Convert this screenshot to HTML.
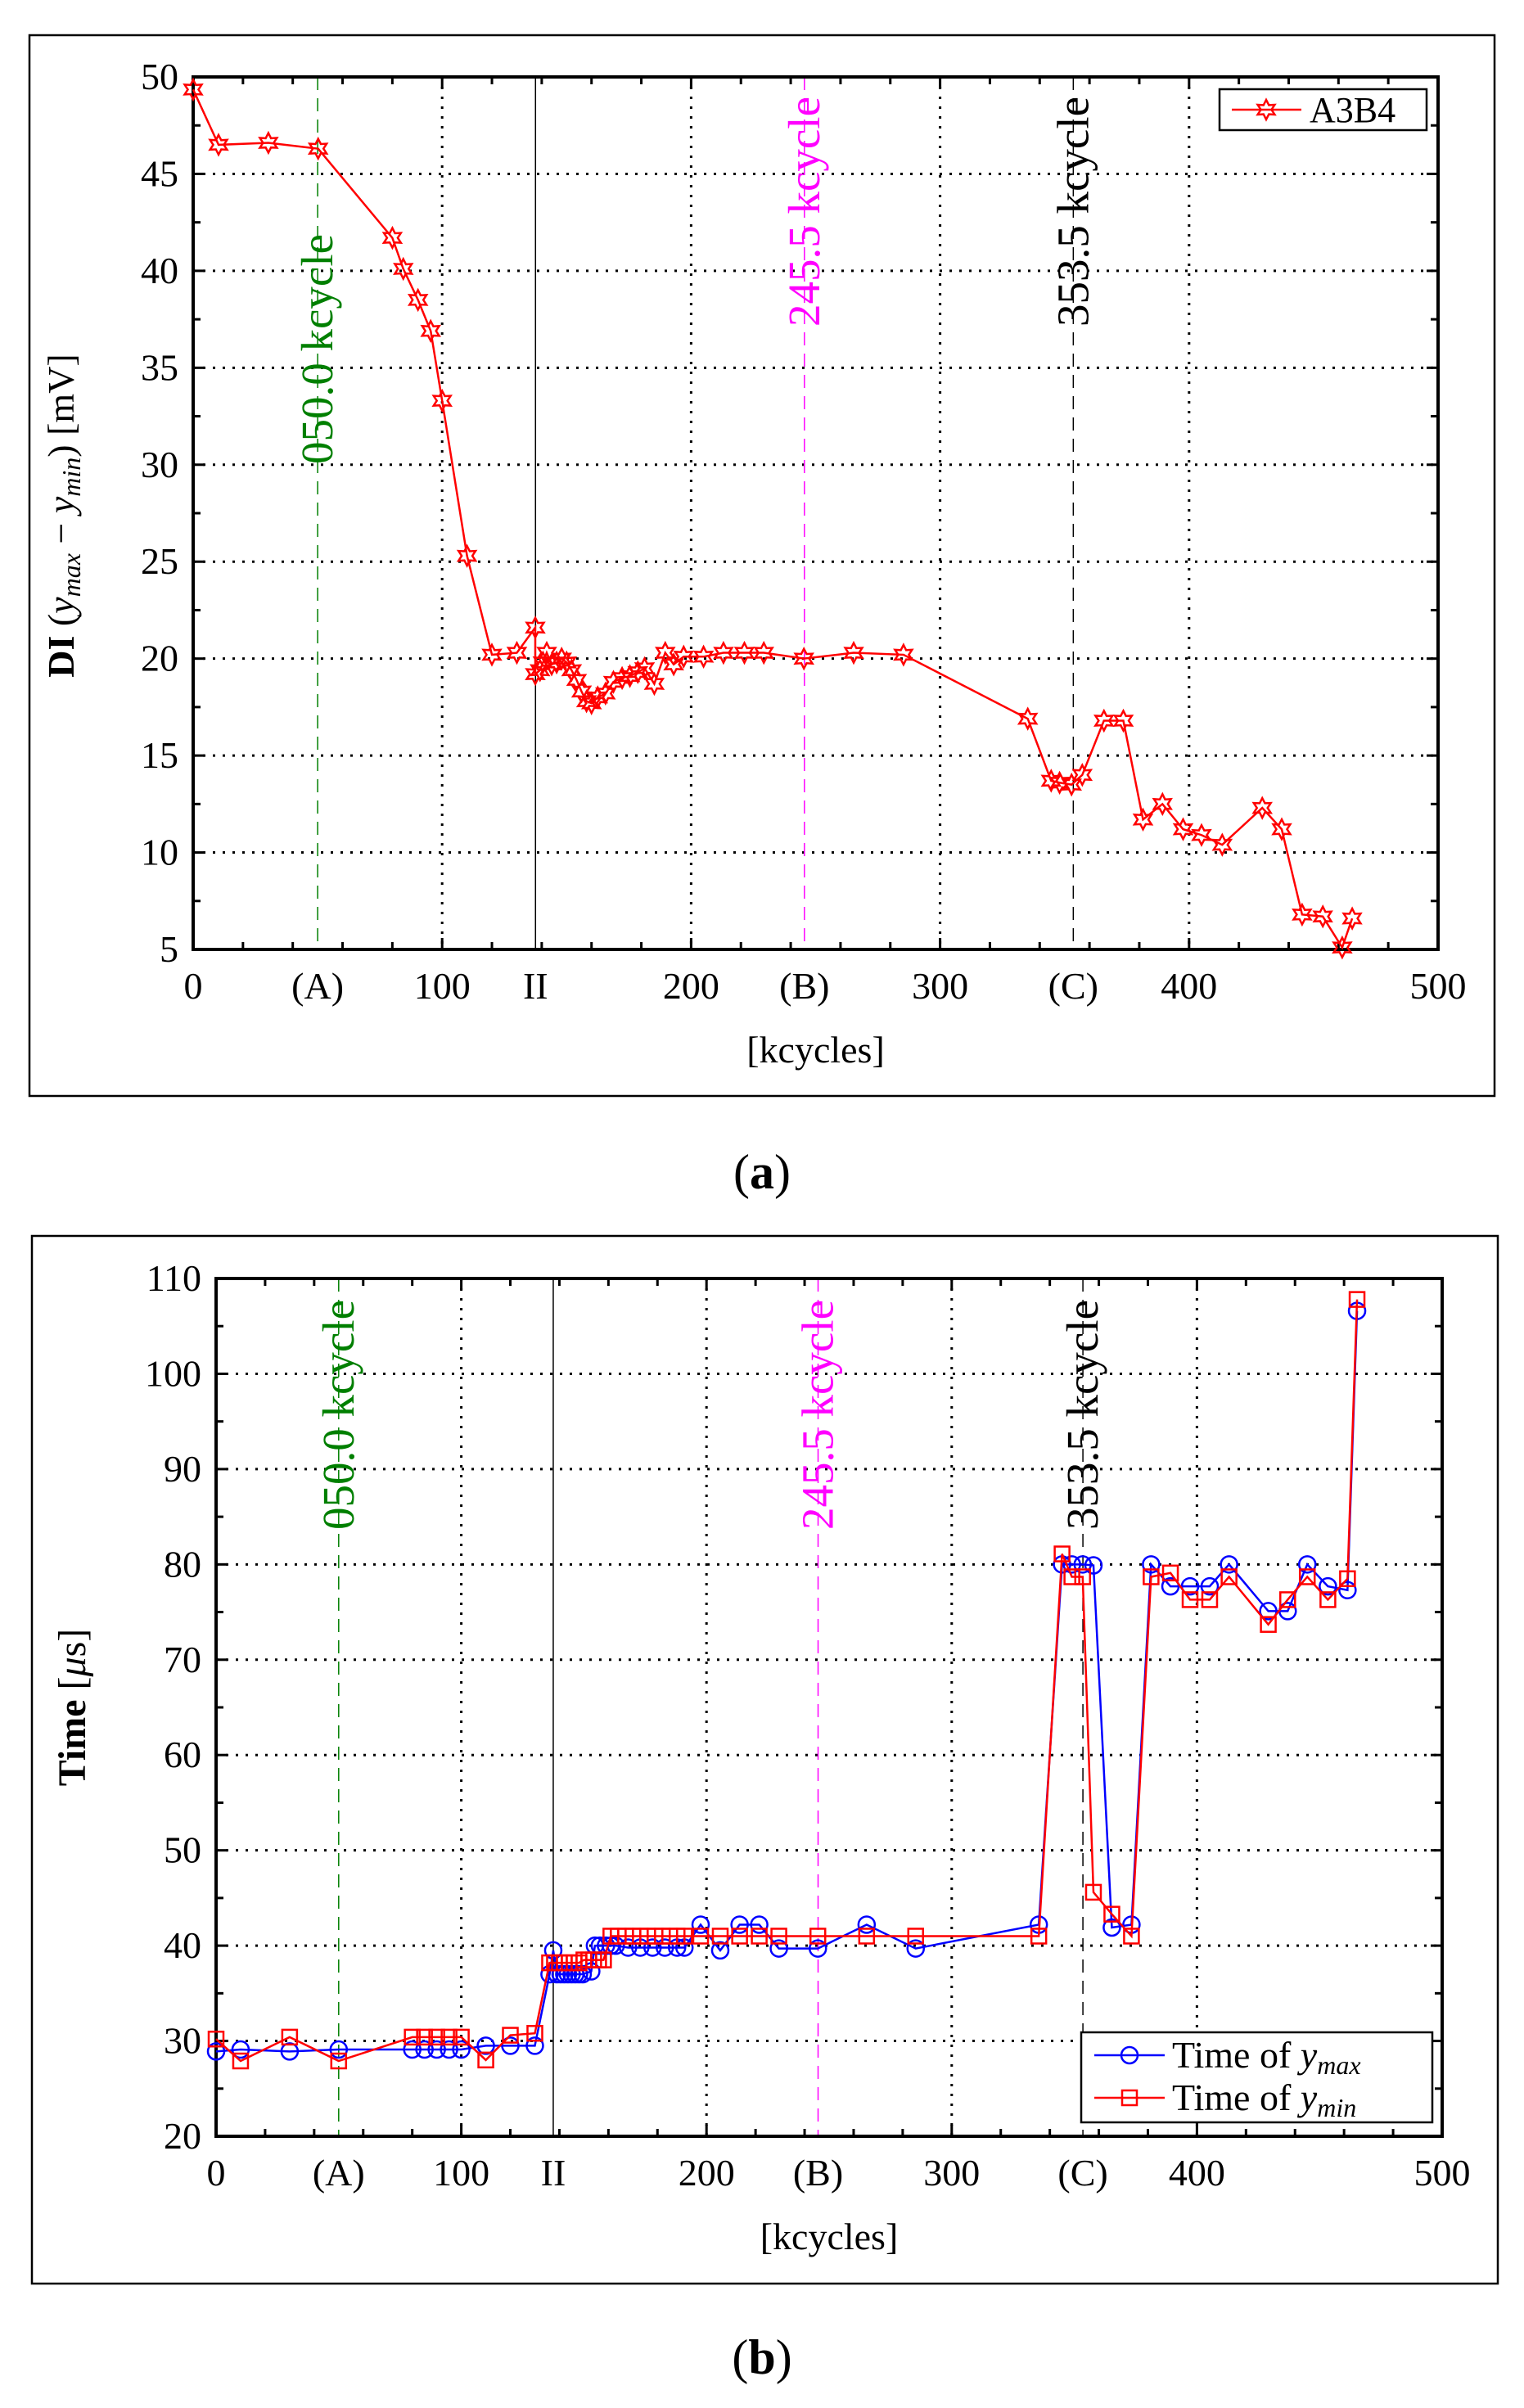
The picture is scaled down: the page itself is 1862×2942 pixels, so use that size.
<!DOCTYPE html>
<html><head><meta charset="utf-8"><style>
html,body{margin:0;padding:0;background:#fff;}
svg{display:block;font-family:"Liberation Serif",serif;}
</style></head><body>
<svg id="s" width="1862" height="2942" xmlns="http://www.w3.org/2000/svg"></svg>
<script>
const S=document.getElementById('s');let h='';
function panel(P){
 const {L,R,T,B,x0,x1,y0,y1}=P;
 const X=v=>L+(v-x0)/(x1-x0)*(R-L), Y=v=>B-(v-y0)/(y1-y0)*(B-T);
 h+=`<rect x="${P.ox}" y="${P.oy}" width="${P.ow}" height="${P.oh}" fill="none" stroke="#000" stroke-width="2.5"/>`;
 for(let v=100;v<500;v+=100)h+=`<line x1="${X(v)}" y1="${T}" x2="${X(v)}" y2="${B}" stroke="#000" stroke-width="3" stroke-dasharray="3,9"/>`;
 for(let v=y0+P.ys;v<y1;v+=P.ys)h+=`<line x1="${L}" y1="${Y(v)}" x2="${R}" y2="${Y(v)}" stroke="#000" stroke-width="3" stroke-dasharray="3,9"/>`;
 for(let v=0;v<=500;v+=20){const maj=v%100==0,l=maj?14:9;h+=`<line x1="${X(v)}" y1="${B}" x2="${X(v)}" y2="${B-l}" stroke="#000" stroke-width="3"/><line x1="${X(v)}" y1="${T}" x2="${X(v)}" y2="${T+l}" stroke="#000" stroke-width="3"/>`;}
 for(let v=y0;v<=y1+1e-6;v+=P.ys/2){const maj=Math.abs(((v-y0)/P.ys)%1)<1e-6,l=maj?14:9;h+=`<line x1="${L}" y1="${Y(v)}" x2="${L+l}" y2="${Y(v)}" stroke="#000" stroke-width="3"/><line x1="${R}" y1="${Y(v)}" x2="${R-l}" y2="${Y(v)}" stroke="#000" stroke-width="3"/>`;}
 h+=`<line x1="${X(137.5)}" y1="${T}" x2="${X(137.5)}" y2="${B}" stroke="#000" stroke-width="1.5"/>`;
 [[50,'#007f00'],[245.5,'#ff00ff'],[353.5,'#000']].forEach(([v,c])=>h+=`<line x1="${X(v)}" y1="${T}" x2="${X(v)}" y2="${B}" stroke="${c}" stroke-width="1.5" stroke-dasharray="16,10"/>`);
 P.labels.forEach(([v,c,t,yb])=>h+=`<text x="${X(v)+18}" y="${yb}" transform="rotate(-90 ${X(v)+18} ${yb})" fill="${c}" font-size="55">${t}</text>`);
 h+=`<rect x="${L}" y="${T}" width="${R-L}" height="${B-T}" fill="none" stroke="#000" stroke-width="4"/>`;
 [[0,'0'],[50,'(A)'],[100,'100'],[137.5,'II'],[200,'200'],[245.5,'(B)'],[300,'300'],[353.5,'(C)'],[400,'400'],[500,'500']].forEach(([v,t])=>h+=`<text x="${X(v)}" y="${B+60}" text-anchor="middle" font-size="46">${t}</text>`);
 for(let v=y0;v<=y1+1e-6;v+=P.ys)h+=`<text x="${L-18}" y="${Y(v)+15}" text-anchor="end" font-size="46">${v}</text>`;
 h+=`<text x="${(L+R)/2}" y="${B+138}" text-anchor="middle" font-size="46">[kcycles]</text>`;
 P.series.forEach(s=>{
  h+=`<polyline fill="none" stroke="${s.c}" stroke-width="2.5" points="${s.d.map(p=>X(p[0])+','+Y(p[1])).join(' ')}"/>`;
  s.d.forEach(p=>h+=s.m(X(p[0]),Y(p[1])));
 });
 return {X,Y};
}
function star(x,y){let a=[];for(let i=0;i<12;i++){const r=i%2?6.5:12,t=Math.PI/6*i-Math.PI/2;a.push((x+r*Math.cos(t)).toFixed(1)+','+(y+r*Math.sin(t)).toFixed(1));}return `<polygon points="${a.join(' ')}" fill="none" stroke="#f00" stroke-width="2.5"/>`;}
const circ=(x,y)=>`<circle cx="${x}" cy="${y}" r="10" fill="none" stroke="#00f" stroke-width="2.5"/>`;
const sq=(x,y)=>`<rect x="${x-9}" y="${y-9}" width="18" height="18" fill="none" stroke="#f00" stroke-width="2.5"/>`;
const A=[[0,49.35],[10.2,46.5],[30.2,46.6],[50.2,46.3],[80,41.7],[84.4,40.1],[90.3,38.5],[95.4,36.9],[100,33.3],[110,25.3],[120,20.2],[130,20.3],[137.4,21.6],[137.4,19.2],[139.3,19.4],[140.5,19.8],[142,20.3],[144,19.7],[146,19.8],[148,20.0],[150,19.8],[152,19.4],[154,18.9],[156,18.3],[158,17.8],[160,17.7],[162.5,18.0],[165.6,18.2],[168.8,18.8],[172.3,19.0],[175.4,19.1],[178.6,19.3],[181.3,19.5],[185.2,18.7],[189.6,20.3],[193,19.7],[197,20.1],[205,20.1],[213,20.3],[221.4,20.3],[229.2,20.3],[245.3,20.0],[265.3,20.3],[285.3,20.2],[335.2,16.9],[344.6,13.7],[348,13.6],[352.8,13.5],[357.1,14.0],[365.8,16.8],[373.6,16.8],[381.5,11.7],[389.3,12.5],[397.6,11.2],[405,10.9],[413.3,10.4],[429.4,12.3],[437.2,11.2],[445.4,6.8],[453.7,6.7],[461.5,5.1],[465.5,6.6]];
panel({ox:36,oy:43,ow:1790,oh:1296,L:236,R:1757,T:94,B:1160,x0:0,x1:500,y0:5,y1:50,ys:5,
 labels:[[50,'#007f00','050.0 kcycle',567],[245.5,'#ff00ff','245.5 kcycle',399],[353.5,'#000','353.5 kcycle',399]],
 series:[{c:'#f00',d:A,m:star}]});
h+=`<rect x="1490" y="109" width="253" height="50" fill="#fff" stroke="#000" stroke-width="2.5"/><line x1="1505" y1="134" x2="1590" y2="134" stroke="#f00" stroke-width="2.5"/>${star(1547,134)}<text x="1600" y="149" font-size="44">A3B4</text>`;
h+=`<text x="90" y="630" transform="rotate(-90 90 630)" text-anchor="middle" font-size="46"><tspan font-weight="bold">DI</tspan> (<tspan font-style="italic">y</tspan><tspan font-style="italic" font-size="32" dy="8">max</tspan><tspan dy="-8"> − </tspan><tspan font-style="italic">y</tspan><tspan font-style="italic" font-size="32" dy="8">min</tspan><tspan dy="-8">) [mV]</tspan></text>`;
h+=`<text x="931" y="1452" text-anchor="middle" font-size="60">(<tspan font-weight="bold">a</tspan>)</text>`;
const Bx=[[0,28.9],[10,29.1],[30,28.9],[50,29.1],[80,29.1],[85,29.1],[90,29.1],[95,29.1],[100,29.1],[110,29.5],[120,29.5],[130,29.5],[136,37],[137.5,39.5],[139,37],[140.5,37],[142,37],[143.5,37],[145,37],[146.5,37],[148,37],[149.5,37],[153,37.3],[154.5,40],[156.5,40],[159,40],[161,40],[163,40],[168,39.8],[173,39.8],[178,39.8],[183,39.8],[188,39.8],[191,39.8],[197.6,42.2],[205.6,39.5],[213.5,42.2],[221.5,42.2],[229.5,39.7],[245.4,39.7],[265.3,42.2],[285.3,39.7],[335.5,42.2],[345,80],[349,80],[353.4,80],[357.8,79.9],[365.3,41.9],[373.3,42.2],[381.3,80],[389.2,77.7],[397.2,77.7],[405.2,77.7],[413.1,80],[429.1,75.1],[437,75.1],[445,80],[453.4,77.7],[461.4,77.3],[465.3,106.6]];
const Bn=[[0,30.2],[10,27.9],[30,30.4],[50,27.9],[80,30.4],[85,30.4],[90,30.4],[95,30.4],[100,30.4],[110,28],[120,30.6],[130,30.8],[136,38.2],[138,38.2],[140,38.2],[142,38.2],[144,38.2],[146,38.2],[148,38.2],[150,38.5],[152,38.5],[154,38.5],[156,38.5],[158,38.5],[161,41],[164,41],[167,41],[170,41],[173,41],[176,41],[179,41],[182,41],[185,41],[188,41],[191,41],[197.6,41],[205.6,41],[213.5,41],[221.5,41],[229.5,41],[245.4,41],[265.3,41],[285.3,41],[335.5,41],[345,81.1],[349,78.7],[353.4,78.7],[357.8,45.6],[365.3,43.3],[373.3,41],[381.3,78.7],[389.2,79.1],[397.2,76.3],[405.2,76.3],[413.1,78.7],[429.1,73.7],[437,76.3],[445,78.7],[453.4,76.3],[461.4,78.5],[465.3,107.8]];
panel({ox:39,oy:1510,ow:1791,oh:1280,L:264,R:1762,T:1562,B:2610,x0:0,x1:500,y0:20,y1:110,ys:10,
 labels:[[50,'#007f00','050.0 kcycle',1869],[245.5,'#ff00ff','245.5 kcycle',1869],[353.5,'#000','353.5 kcycle',1869]],
 series:[{c:'#00f',d:Bx,m:circ},{c:'#f00',d:Bn,m:sq}]});
h+=`<rect x="1321" y="2483" width="429" height="110" fill="#fff" stroke="#000" stroke-width="2.5"/>
<line x1="1337" y1="2511" x2="1423" y2="2511" stroke="#00f" stroke-width="2.5"/>${circ(1380,2511)}
<line x1="1337" y1="2563" x2="1423" y2="2563" stroke="#f00" stroke-width="2.5"/>${sq(1380,2563)}
<text x="1432" y="2526" font-size="46">Time of <tspan font-style="italic">y</tspan><tspan font-style="italic" font-size="32" dy="8">max</tspan></text>
<text x="1432" y="2578" font-size="46">Time of <tspan font-style="italic">y</tspan><tspan font-style="italic" font-size="32" dy="8">min</tspan></text>`;
h+=`<text x="104" y="2086" transform="rotate(-90 104 2086)" text-anchor="middle" font-size="48"><tspan font-weight="bold">Time</tspan> [<tspan font-style="italic">μ</tspan>s]</text>`;
h+=`<text x="931" y="2900" text-anchor="middle" font-size="60">(<tspan font-weight="bold">b</tspan>)</text>`;
S.innerHTML=h;
</script>
</body></html>
